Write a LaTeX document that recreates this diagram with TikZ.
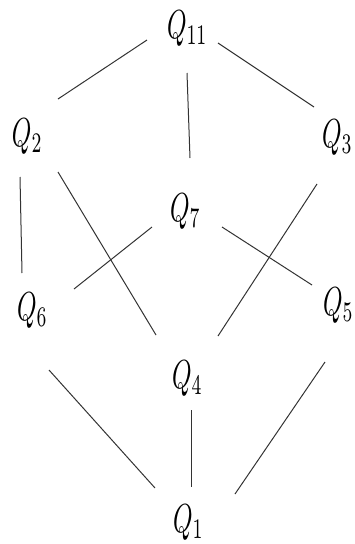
\documentclass[tikz,border=0pt]{standalone}
\usepackage{graphicx}
\newcommand\qlabel[1]{\scalebox{2.48}[4.05]{$#1$}}
\begin{document}
\begin{tikzpicture}[x=1pt,y=-1pt,
  qnode/.style={inner sep=0pt, outer sep=0pt, anchor=base west},
  edge/.style={line width=1pt, draw=black!80}]
\useasboundingbox (0,0) rectangle (354,544);
\node[qnode] (q11) at (167,38) {\qlabel{Q_{11}}};
\node[qnode] (q2)  at (12,146) {\qlabel{Q_{2}}};
\node[qnode] (q3)  at (322,147) {\qlabel{Q_{3}}};
\node[qnode] (q7)  at (170,221) {\qlabel{Q_{7}}};
\node[qnode] (q6)  at (17,320) {\qlabel{Q_{6}}};
\node[qnode] (q5)  at (323,315) {\qlabel{Q_{5}}};
\node[qnode] (q4)  at (172,388) {\qlabel{Q_{4}}};
\node[qnode] (q1)  at (173,532) {\qlabel{Q_{1}}};
\draw[edge] ([shift={(-20,2)}]q11.base west) -- ([shift={(46,-47)}]q2.base west);
\draw[edge] ([shift={(20,35)}]q11.base west) -- ([shift={(20,-63)}]q7.base west);
\draw[edge] ([shift={(51,5)}]q11.base west) -- ([shift={(-8,-40)}]q3.base west);
\draw[edge] ([shift={(8,31)}]q2.base west) -- ([shift={(5,-47)}]q6.base west);
\draw[edge] ([shift={(46,26)}]q2.base west) -- ([shift={(-16,-53)}]q4.base west);
\draw[edge] ([shift={(-5,37)}]q3.base west) -- ([shift={(46,-52)}]q4.base west);
\draw[edge] ([shift={(-18,6)}]q7.base west) -- ([shift={(57,-31)}]q6.base west);
\draw[edge] ([shift={(52,6)}]q7.base west) -- ([shift={(-11,-30)}]q5.base west);
\draw[edge] ([shift={(32,50)}]q6.base west) -- ([shift={(-18,-44)}]q1.base west);
\draw[edge] ([shift={(19,22)}]q4.base west) -- ([shift={(18,-45)}]q1.base west);
\draw[edge] ([shift={(2,47)}]q5.base west) -- ([shift={(62,-38)}]q1.base west);
\end{tikzpicture}
\end{document}
